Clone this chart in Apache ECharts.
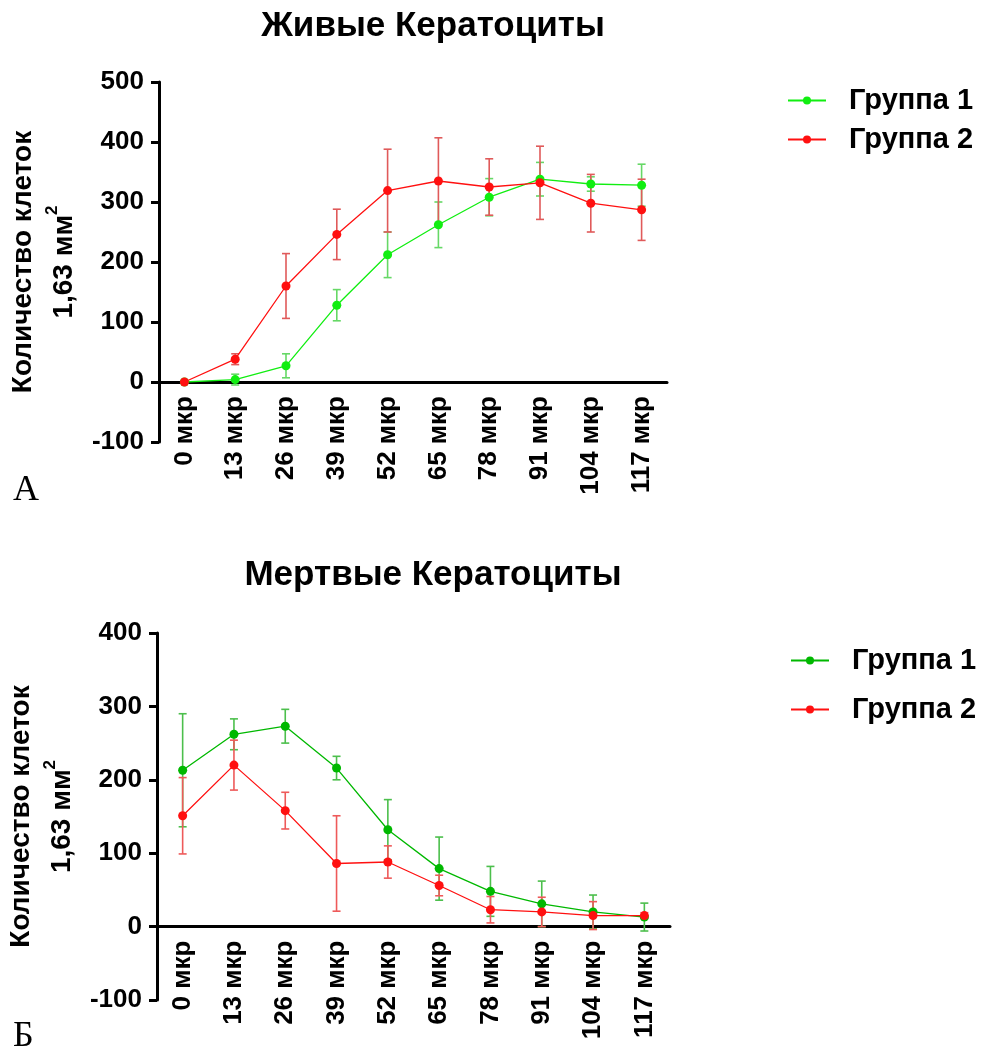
<!DOCTYPE html>
<html>
<head>
<meta charset="utf-8">
<script src="https://cdn.jsdelivr.net/npm/echarts@6/dist/echarts.min.js"></script>
<style>
html,body{margin:0;padding:0;background:#fff;}
#c1{position:absolute;left:0;top:0;width:985px;height:530px;}
#c2{position:absolute;left:0;top:530px;width:985px;height:523px;}
</style>
</head>
<body>
<div id="c1"></div>
<div id="c2"></div>
<script>
const categories = ['0 мкр','13 мкр','26 мкр','39 мкр','52 мкр','65 мкр','78 мкр','91 мкр','104 мкр','117 мкр'];
const seriesNames = ['Группа 1','Группа 2'];

// Живые Кератоциты
const liveGroup1Mean = [0, 4, 27, 128, 212, 262, 308, 338, 330, 328];
const liveGroup1Err  = [0, 9, 20, 26, 38, 38, 31, 28, 12, 35];
const liveGroup2Mean = [0, 38, 160, 246, 319, 335, 325, 332, 298, 287];
const liveGroup2Err  = [0, 9, 54, 42, 69, 72, 47, 61, 48, 51];
const liveYTicks = {min: -100, max: 500, interval: 100};

// Мертвые Кератоциты
const deadGroup1Mean = [213, 262, 273, 216, 132, 79, 48, 31, 20, 13];
const deadGroup1Err  = [77, 21, 23, 16, 41, 43, 34, 31, 23, 19];
const deadGroup2Mean = [151, 220, 158, 86, 88, 56, 23, 20, 15, 15];
const deadGroup2Err  = [52, 34, 25, 65, 22, 14, 18, 20, 19, 4];
const deadYTicks = {min: -100, max: 400, interval: 100};

const FONT = '"Liberation Sans", Arial, sans-serif';

function errData(mean, err){
  return mean.map((m,i)=>[i, m - err[i], m + err[i]]);
}
function errSeries(name, mean, err, color){
  return {
    type: 'custom', name: name, z: 1, silent: true,
    data: errData(mean, err),
    renderItem: function(params, api){
      const lo = api.coord([api.value(0), api.value(1)]);
      const hi = api.coord([api.value(0), api.value(2)]);
      const cw = 4;
      const st = {stroke: color, lineWidth: 1.6};
      return {type:'group', children:[
        {type:'line', shape:{x1:lo[0],y1:lo[1],x2:hi[0],y2:hi[1]}, style:st},
        {type:'line', shape:{x1:lo[0]-cw,y1:lo[1],x2:lo[0]+cw,y2:lo[1]}, style:st},
        {type:'line', shape:{x1:hi[0]-cw,y1:hi[1],x2:hi[0]+cw,y2:hi[1]}, style:st}
      ]};
    }
  };
}
function lineSeries(name, mean, color){
  return {
    type:'line', name:name, z: 3, data: mean,
    symbol:'circle', symbolSize: 9, showSymbol: true,
    itemStyle:{color: color},
    lineStyle:{color: color, width: 1.3},
    emphasis:{disabled:true}, animation:false
  };
}

function makeOption(cfg){
  // x axis drawn at the y=0 level: shift it up from the grid bottom by the scale fraction below zero
  const zeroOffset = -cfg.grid.height * (0 - cfg.y.min) / (cfg.y.max - cfg.y.min);
  return {
    animation:false,
    title:[{
      text: cfg.title, left: 433, top: cfg.titleTop, textAlign:'center', padding:0,
      textStyle:{fontFamily:FONT, fontWeight:'bold', fontSize:35, color:'#000'}
    }],
    graphic:[{
      type:'text', left: 13, top: cfg.letterTop,
      style:{text: cfg.letter, font:'36px "Liberation Serif", "Times New Roman", serif', fill:'#000'}
    }],
    legend:{
      orient:'vertical', left: cfg.legendLeft, top: cfg.legendTop, padding:0,
      itemWidth: 38, itemHeight: 10, itemGap: cfg.legendGap,
      data: seriesNames,
      textStyle:{fontFamily:FONT, fontWeight:'bold', fontSize:29, color:'#000', lineHeight:29, padding:[0,0,0,cfg.legendTextPad]},
      selectedMode:false
    },
    grid:{left: cfg.grid.left, top: cfg.grid.top, width: cfg.grid.width, height: cfg.grid.height, containLabel:false, outerBoundsMode:'none'},
    xAxis:{
      type:'category', data: categories, boundaryGap:true, position:'bottom', offset: zeroOffset,
      axisLine:{onZero:false, lineStyle:{color:'#000', width:3}},
      axisTick:{alignWithLabel:true, length:8, lineStyle:{color:'#000', width:3}},
      axisLabel:{rotate:90, margin:14, fontFamily:FONT, fontWeight:'bold', fontSize:26, color:'#000', interval:0},
      splitLine:{show:false}
    },
    yAxis:{
      type:'value', min: cfg.y.min, max: cfg.y.max, interval: cfg.y.interval,
      axisLine:{show:true, onZero:false, lineStyle:{color:'#000', width:3}},
      axisTick:{show:true, length:8, lineStyle:{color:'#000', width:3}},
      axisLabel:{margin:15, fontFamily:FONT, fontWeight:'bold', fontSize:26, color:'#000'},
      splitLine:{show:false},
      name:'{a|Количество клеток}\n{a|1,63 мм}{s|2}',
      nameLocation:'middle', nameRotate:90, nameGap: cfg.nameGap,
      nameTextStyle:{
        rich:{
          a:{fontFamily:FONT, fontWeight:'bold', fontSize:28, color:'#000', lineHeight:41},
          s:{fontFamily:FONT, fontWeight:'bold', fontSize:17, color:'#000', lineHeight:41, verticalAlign:'top'}
        }
      }
    },
    series:[
      errSeries('e1', cfg.m1, cfg.e1, cfg.ec1),
      errSeries('e2', cfg.m2, cfg.e2, cfg.ec2),
      lineSeries(seriesNames[0], cfg.m1, cfg.c1),
      lineSeries(seriesNames[1], cfg.m2, cfg.c2)
    ]
  };
}

const chart1 = echarts.init(document.getElementById('c1'), null, {renderer:'canvas'});
chart1.setOption(makeOption({
  title:'Живые Кератоциты', titleTop: 9, letter:'А', letterTop: 473,
  legendLeft: 787, legendTop: 86, legendGap: 10, legendTextPad: 18,
  grid:{left:159, top:82, width:508, height:360},
  y: liveYTicks, nameGap: 74,
  m1: liveGroup1Mean, e1: liveGroup1Err, m2: liveGroup2Mean, e2: liveGroup2Err,
  c1:'#11ee11', c2:'#ff1010', ec1:'#66d866', ec2:'#e05a5a'
}));

const chart2 = echarts.init(document.getElementById('c2'), null, {renderer:'canvas'});
chart2.setOption(makeOption({
  title:'Мертвые Кератоциты', titleTop: 28, letter:'Б', letterTop: 489,
  legendLeft: 790, legendTop: 116, legendGap: 20, legendTextPad: 18,
  grid:{left:157, top:103, width:513, height:367},
  y: deadYTicks, nameGap: 74,
  m1: deadGroup1Mean, e1: deadGroup1Err, m2: deadGroup2Mean, e2: deadGroup2Err,
  c1:'#00b800', c2:'#ff1010', ec1:'#4cbf4c', ec2:'#ee5a5a'
}));
</script>
</body>
</html>
